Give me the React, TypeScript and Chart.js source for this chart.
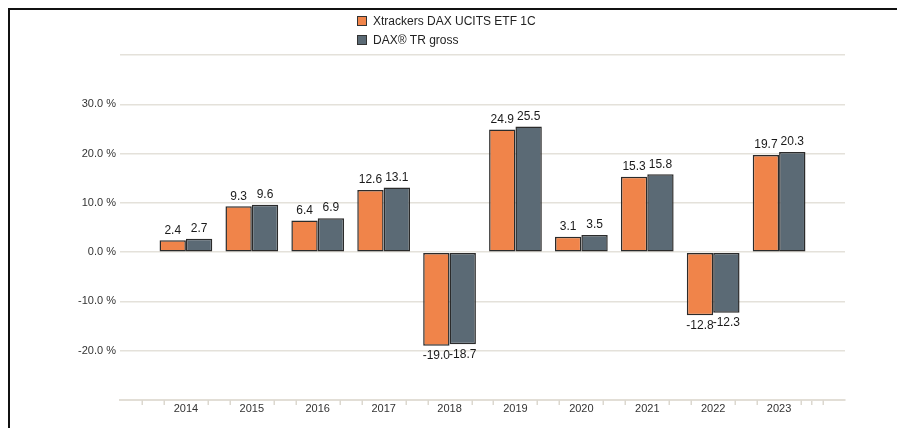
import React, { useEffect, useRef } from "react";
import { Chart, registerables } from "chart.js";

Chart.register(...registerables);

const years = [2014, 2015, 2016, 2017, 2018, 2019, 2020, 2021, 2022, 2023];
const etfValues = [2.4, 9.3, 6.4, 12.6, -19.0, 24.9, 3.1, 15.3, -12.8, 19.7];
const indexValues = [2.7, 9.6, 6.9, 13.1, -18.7, 25.5, 3.5, 15.8, -12.3, 20.3];
const seriesNames = ["Xtrackers DAX UCITS ETF 1C", "DAX® TR gross"];
const seriesColors = ["#F0844A", "#5B6A75"];
const yTickValues = [-20, -10, 0, 10, 20, 30];

const FONT = '"Liberation Sans", Arial, Helvetica, sans-serif';
const TICK_COLOR = "#dcd8cf";

const dataLabelPlugin = {
  id: "dataLabels",
  afterDatasetsDraw(chart: any) {
    const ctx = chart.ctx;
    ctx.save();
    ctx.font = `12px ${FONT}`;
    ctx.fillStyle = "#1a1a1a";
    ctx.textAlign = "center";
    chart.data.datasets.forEach((ds: any, di: number) => {
      const meta = chart.getDatasetMeta(di);
      meta.data.forEach((el: any, i: number) => {
        const v = ds.data[i].y;
        const txt = v.toFixed(1);
        if (v >= 0) {
          ctx.textBaseline = "bottom";
          ctx.fillText(txt, el.x, el.y - 4);
        } else {
          ctx.textBaseline = "top";
          ctx.fillText(txt, el.x, el.y + 4);
        }
      });
    });
    ctx.restore();
  },
};

// minor tick marks every third of a year along the x axis
const minorTickPlugin = {
  id: "minorTicks",
  afterDraw(chart: any) {
    const s = chart.scales.x;
    const ctx = chart.ctx;
    ctx.save();
    ctx.strokeStyle = TICK_COLOR;
    ctx.lineWidth = 1.5;
    const start = years[0] - 1;
    const end = years[years.length - 1] + 1;
    for (let y = start; y < end; y++) {
      for (const f of [1 / 3, 2 / 3]) {
        const px = Math.round(s.getPixelForValue(y + f)) + 0.25;
        ctx.beginPath();
        ctx.moveTo(px, s.top);
        ctx.lineTo(px, s.top + 5);
        ctx.stroke();
      }
    }
    ctx.restore();
  },
};

const legendPlugin = {
  id: "customLegend",
  afterDraw(chart: any) {
    const ctx = chart.ctx;
    ctx.save();
    ctx.font = `12px ${FONT}`;
    ctx.textBaseline = "middle";
    ctx.textAlign = "left";
    chart.data.datasets.forEach((ds: any, i: number) => {
      const x = 347;
      const y = 6 + i * 19;
      ctx.fillStyle = ds.backgroundColor;
      ctx.fillRect(x, y, 10, 10);
      ctx.strokeStyle = "#333";
      ctx.lineWidth = 1;
      ctx.strokeRect(x + 0.5, y + 0.5, 9, 9);
      ctx.fillStyle = "#222";
      ctx.fillText(ds.label, x + 16, y + 5.5);
    });
    ctx.restore();
  },
};

function isLabelYear(v: number) {
  const r = Math.round(v);
  return Math.abs(v - r) < 1e-6 && years.includes(r);
}

export default function App() {
  const ref = useRef<HTMLCanvasElement>(null);

  useEffect(() => {
    if (!ref.current) return;
    const chart = new Chart(ref.current, {
      type: "bar",
      data: {
        datasets: [
          {
            label: seriesNames[0],
            data: years.map((y, i) => ({ x: y, y: etfValues[i] })),
            backgroundColor: seriesColors[0],
            borderColor: "#2b2b2b",
            borderWidth: 1.5,
            borderSkipped: false,
            categoryPercentage: 0.8,
            barPercentage: 1.0,
          },
          {
            label: seriesNames[1],
            data: years.map((y, i) => ({ x: y, y: indexValues[i] })),
            backgroundColor: seriesColors[1],
            borderColor: "#2b2b2b",
            borderWidth: 1.5,
            borderSkipped: false,
            categoryPercentage: 0.8,
            barPercentage: 1.0,
          },
        ],
      },
      options: {
        responsive: false,
        animation: false,
        layout: { padding: { left: 0, right: 58, top: 45, bottom: 0 } },
        plugins: {
          legend: { display: false },
          tooltip: { enabled: false },
        },
        scales: {
          x: {
            type: "linear",
            min: years[0] - 1,
            max: years[years.length - 1] + 1,
            offset: false,
            afterBuildTicks: (scale: any) => {
              const ticks = [];
              for (let v = years[0] - 1; v <= years[years.length - 1] + 1; v++) ticks.push({ value: v });
              scale.ticks = ticks;
            },
            afterFit: (scale: any) => {
              scale.height = 28;
            },
            ticks: {
              autoSkip: false,
              maxRotation: 0,
              minRotation: 0,
              padding: -3,
              color: "#333",
              font: { family: FONT, size: 11 },
              callback: (v: any) => (isLabelYear(Number(v)) ? String(Math.round(Number(v))) : ""),
            },
            grid: {
              drawOnChartArea: false,
              drawTicks: true,
              tickLength: 5,
              lineWidth: 1.5,
              tickColor: (c: any) =>
                c.tick && isLabelYear(c.tick.value) ? "rgba(0,0,0,0)" : TICK_COLOR,
            },
            border: { display: true, color: "#e2ded6", width: 2 },
          },
          y: {
            min: -30,
            max: 40,
            afterFit: (scale: any) => {
              scale.width = 110;
            },
            ticks: {
              stepSize: 10,
              padding: 4,
              color: "#333",
              font: { family: FONT, size: 11 },
              callback: (v: any) =>
                yTickValues.includes(Number(v)) ? `${Number(v).toFixed(1)} %` : "",
            },
            grid: {
              drawTicks: false,
              color: "#e4e1da",
              lineWidth: 1.5,
            },
            border: { display: false },
          },
        },
      },
      plugins: [dataLabelPlugin, minorTickPlugin, legendPlugin],
    } as any);
    return () => chart.destroy();
  }, []);

  return (
    <div
      style={{
        width: 895,
        height: 420,
        boxSizing: "border-box",
        borderTop: "2px solid #111",
        borderLeft: "2px solid #111",
        background: "#fff",
      }}
    >
      <canvas ref={ref} width={893} height={418} style={{ display: "block" }} />
    </div>
  );
}
